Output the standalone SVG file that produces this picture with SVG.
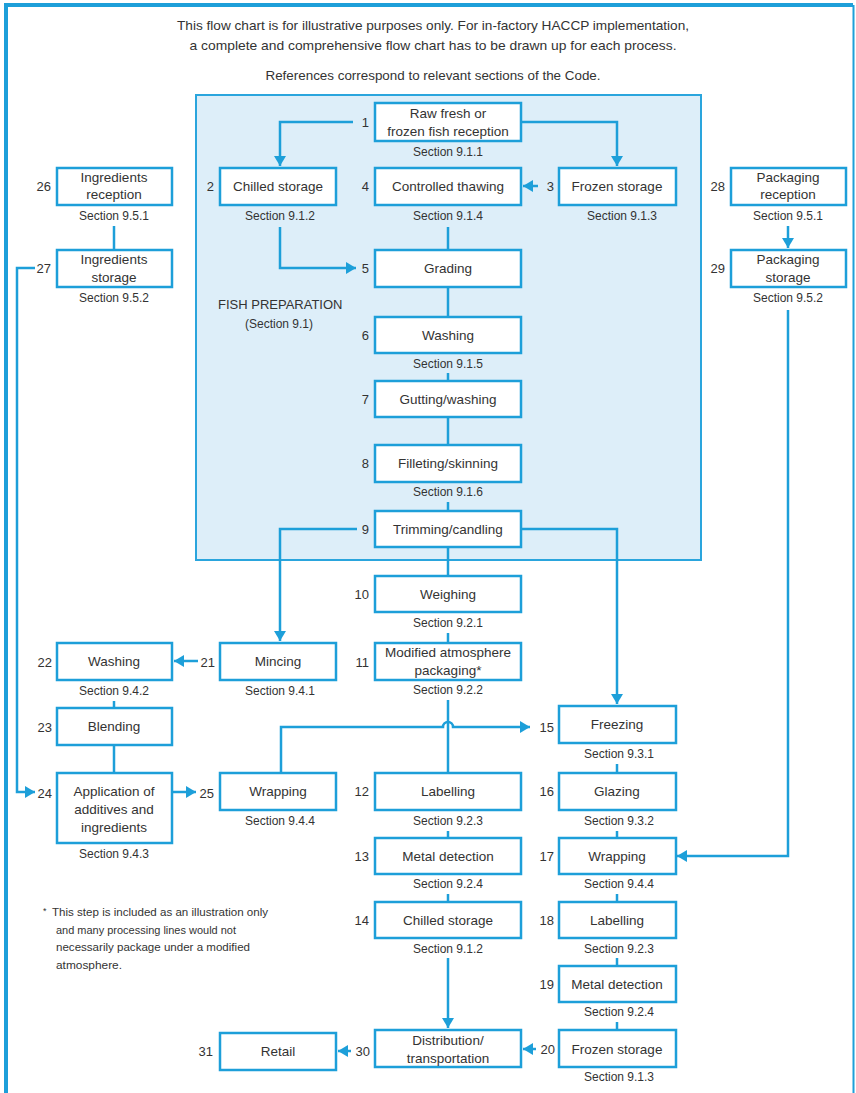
<svg xmlns="http://www.w3.org/2000/svg" width="856" height="1093" viewBox="0 0 856 1093">
<defs>
<style>
text{font-family:"Liberation Sans",Arial,sans-serif;fill:#333}
.lb{font-size:13.5px;text-anchor:middle;dominant-baseline:central}
.sec{font-size:12px;text-anchor:middle;dominant-baseline:central}
.num{font-size:13px;text-anchor:end;dominant-baseline:central}
.box{fill:#fff;stroke:#1d9fd9;stroke-width:2.5}
.hdr{font-size:13px;text-anchor:middle}
.fn{font-size:10.5px}
.c path{fill:none;stroke:#1d9fd9;stroke-width:2.5}
</style>
<marker id="ah" markerUnits="userSpaceOnUse" markerWidth="10" markerHeight="12" refX="10" refY="6" orient="auto" viewBox="0 0 10 12">
<path d="M0,0 L10,6 L0,12 z" fill="#1d9fd9"/>
</marker>
</defs>
<rect x="0" y="0" width="856" height="1093" fill="#fff"/>
<g id="frame">
<path d="M6,1093 V5 H853" fill="none" stroke="#1d9fd9" stroke-width="4"/>
<path d="M853.5,5 V1093" fill="none" stroke="#1d9fd9" stroke-width="2"/>
</g>
<g id="header">
<text class="hdr" x="433" y="30" textLength="512" lengthAdjust="spacingAndGlyphs">This flow chart is for illustrative purposes only. For in-factory HACCP implementation,</text>
<text class="hdr" x="433" y="50" textLength="487" lengthAdjust="spacingAndGlyphs">a complete and comprehensive flow chart has to be drawn up for each process.</text>
<text class="hdr" x="433" y="80" textLength="335" lengthAdjust="spacingAndGlyphs">References correspond to relevant sections of the Code.</text>
</g>
<g id="fish-prep">
<rect x="196" y="95" width="505" height="465" fill="#ddeef9" stroke="#2aa5dd" stroke-width="2"/>
<text x="218" y="309" style="font-size:13px">FISH PREPARATION</text>
<text x="279" y="328" style="font-size:12px;text-anchor:middle">(Section 9.1)</text>
</g>
<g class="c" id="connectors">
<path d="M353,122 H280 V166" marker-end="url(#ah)"/>
<path d="M521,122 H617 V166" marker-end="url(#ah)"/>
<path d="M538,186 H523" marker-end="url(#ah)"/>
<path d="M280,227 V268 H356" marker-end="url(#ah)"/>
<path d="M448,227 V250"/>
<path d="M448,287 V317"/>
<path d="M448,373 V381"/>
<path d="M448,417 V445"/>
<path d="M448,502 V511"/>
<path d="M448,547 V576"/>
<path d="M448,633 V643"/>
<path d="M357,529 H280 V641" marker-end="url(#ah)"/>
<path d="M521,529 H617 V704" marker-end="url(#ah)"/>
<path d="M448,700 V773"/>
<path d="M281,773 V727 H443 A5,5 0 0 1 453,727 H530" marker-end="url(#ah)"/>
<path d="M448,831 V838"/>
<path d="M448,894 V902"/>
<path d="M448,958 V1028" marker-end="url(#ah)"/>
<path d="M617,764 V773"/>
<path d="M617,831 V838"/>
<path d="M617,894 V902"/>
<path d="M617,958 V966"/>
<path d="M617,1022 V1030"/>
<path d="M536,1049 H523" marker-end="url(#ah)"/>
<path d="M351,1051 H338" marker-end="url(#ah)"/>
<path d="M198,661 H174" marker-end="url(#ah)"/>
<path d="M114,701 V708"/>
<path d="M114,745 V773"/>
<path d="M172,792 H196" marker-end="url(#ah)"/>
<path d="M114,226 V250"/>
<path d="M35,268 H17 V792 H35" marker-end="url(#ah)"/>
<path d="M788,226 V248" marker-end="url(#ah)"/>
<path d="M788,310 V856 H677" marker-end="url(#ah)"/>
</g>
<g id="n1"><rect class="box" x="375" y="103" width="146" height="38"/><text class="num" x="369" y="122">1</text><text class="lb" x="448" y="113">Raw fresh or</text><text class="lb" x="448" y="131">frozen fish reception</text><text class="sec" x="448" y="152">Section 9.1.1</text></g>
<g id="n2"><rect class="box" x="220" y="168" width="116" height="37"/><text class="num" x="214" y="186">2</text><text class="lb" x="278" y="186">Chilled storage</text><text class="sec" x="280" y="216">Section 9.1.2</text></g>
<g id="n3"><rect class="box" x="559" y="168" width="117" height="37"/><text class="num" x="554" y="186">3</text><text class="lb" x="617" y="186">Frozen storage</text><text class="sec" x="622" y="216">Section 9.1.3</text></g>
<g id="n4"><rect class="box" x="375" y="168" width="146" height="37"/><text class="num" x="369" y="186">4</text><text class="lb" x="448" y="186">Controlled thawing</text><text class="sec" x="448" y="216">Section 9.1.4</text></g>
<g id="n5"><rect class="box" x="375" y="250" width="146" height="37"/><text class="num" x="369" y="268">5</text><text class="lb" x="448" y="268">Grading</text></g>
<g id="n6"><rect class="box" x="375" y="317" width="146" height="36"/><text class="num" x="369" y="335">6</text><text class="lb" x="448" y="335">Washing</text><text class="sec" x="448" y="364">Section 9.1.5</text></g>
<g id="n7"><rect class="box" x="375" y="381" width="146" height="36"/><text class="num" x="369" y="399">7</text><text class="lb" x="448" y="399">Gutting/washing</text></g>
<g id="n8"><rect class="box" x="375" y="445" width="146" height="37"/><text class="num" x="369" y="463">8</text><text class="lb" x="448" y="463">Filleting/skinning</text><text class="sec" x="448" y="492">Section 9.1.6</text></g>
<g id="n9"><rect class="box" x="375" y="511" width="146" height="36"/><text class="num" x="369" y="529">9</text><text class="lb" x="448" y="529">Trimming/candling</text></g>
<g id="n10"><rect class="box" x="375" y="576" width="146" height="36"/><text class="num" x="369" y="594">10</text><text class="lb" x="448" y="594">Weighing</text><text class="sec" x="448" y="623">Section 9.2.1</text></g>
<g id="n11"><rect class="box" x="375" y="643" width="146" height="37"/><text class="num" x="369" y="662">11</text><text class="lb" x="448" y="652">Modified atmosphere</text><text class="lb" x="448" y="670">packaging*</text><text class="sec" x="448" y="690">Section 9.2.2</text></g>
<g id="n12"><rect class="box" x="375" y="773" width="146" height="37"/><text class="num" x="369" y="791">12</text><text class="lb" x="448" y="791">Labelling</text><text class="sec" x="448" y="821">Section 9.2.3</text></g>
<g id="n13"><rect class="box" x="375" y="838" width="146" height="36"/><text class="num" x="369" y="856">13</text><text class="lb" x="448" y="856">Metal detection</text><text class="sec" x="448" y="884">Section 9.2.4</text></g>
<g id="n14"><rect class="box" x="375" y="902" width="146" height="36"/><text class="num" x="369" y="920">14</text><text class="lb" x="448" y="920">Chilled storage</text><text class="sec" x="448" y="949">Section 9.1.2</text></g>
<g id="n15"><rect class="box" x="559" y="706" width="117" height="37"/><text class="num" x="554" y="727">15</text><text class="lb" x="617" y="724">Freezing</text><text class="sec" x="619" y="754">Section 9.3.1</text></g>
<g id="n16"><rect class="box" x="559" y="773" width="117" height="37"/><text class="num" x="554" y="791">16</text><text class="lb" x="617" y="791">Glazing</text><text class="sec" x="619" y="821">Section 9.3.2</text></g>
<g id="n17"><rect class="box" x="559" y="838" width="117" height="36"/><text class="num" x="554" y="856">17</text><text class="lb" x="617" y="856">Wrapping</text><text class="sec" x="619" y="884">Section 9.4.4</text></g>
<g id="n18"><rect class="box" x="559" y="902" width="117" height="36"/><text class="num" x="554" y="920">18</text><text class="lb" x="617" y="920">Labelling</text><text class="sec" x="619" y="949">Section 9.2.3</text></g>
<g id="n19"><rect class="box" x="559" y="966" width="117" height="36"/><text class="num" x="554" y="984">19</text><text class="lb" x="617" y="984">Metal detection</text><text class="sec" x="619" y="1012">Section 9.2.4</text></g>
<g id="n20"><rect class="box" x="559" y="1030" width="117" height="37"/><text class="num" x="555" y="1049">20</text><text class="lb" x="617" y="1049">Frozen storage</text><text class="sec" x="619" y="1077">Section 9.1.3</text></g>
<g id="n21"><rect class="box" x="220" y="643" width="116" height="37"/><text class="num" x="215" y="662">21</text><text class="lb" x="278" y="661">Mincing</text><text class="sec" x="280" y="691">Section 9.4.1</text></g>
<g id="n22"><rect class="box" x="57" y="643" width="115" height="37"/><text class="num" x="52" y="662">22</text><text class="lb" x="114" y="661">Washing</text><text class="sec" x="114" y="691">Section 9.4.2</text></g>
<g id="n23"><rect class="box" x="57" y="708" width="115" height="37"/><text class="num" x="52" y="727">23</text><text class="lb" x="114" y="726">Blending</text></g>
<g id="n24"><rect class="box" x="57" y="773" width="115" height="70"/><text class="num" x="52" y="793">24</text><text class="lb" x="114" y="791">Application of</text><text class="lb" x="114" y="809">additives and</text><text class="lb" x="114" y="827">ingredients</text><text class="sec" x="114" y="854">Section 9.4.3</text></g>
<g id="n25"><rect class="box" x="220" y="773" width="116" height="37"/><text class="num" x="214" y="793">25</text><text class="lb" x="278" y="791">Wrapping</text><text class="sec" x="280" y="821">Section 9.4.4</text></g>
<g id="n26"><rect class="box" x="57" y="168" width="115" height="37"/><text class="num" x="51" y="186">26</text><text class="lb" x="114" y="177">Ingredients</text><text class="lb" x="114" y="194">reception</text><text class="sec" x="114" y="216">Section 9.5.1</text></g>
<g id="n27"><rect class="box" x="57" y="250" width="115" height="37"/><text class="num" x="51" y="268">27</text><text class="lb" x="114" y="259">Ingredients</text><text class="lb" x="114" y="277">storage</text><text class="sec" x="114" y="298">Section 9.5.2</text></g>
<g id="n28"><rect class="box" x="731" y="168" width="115" height="37"/><text class="num" x="725" y="186">28</text><text class="lb" x="788" y="177">Packaging</text><text class="lb" x="788" y="194">reception</text><text class="sec" x="788" y="216">Section 9.5.1</text></g>
<g id="n29"><rect class="box" x="731" y="250" width="115" height="37"/><text class="num" x="725" y="268">29</text><text class="lb" x="788" y="259">Packaging</text><text class="lb" x="788" y="277">storage</text><text class="sec" x="788" y="298">Section 9.5.2</text></g>
<g id="n30"><rect class="box" x="375" y="1030" width="146" height="37"/><text class="num" x="370" y="1051">30</text><text class="lb" x="448" y="1040">Distribution/</text><text class="lb" x="448" y="1058">transportation</text></g>
<g id="n31"><rect class="box" x="220" y="1033" width="116" height="37"/><text class="num" x="213" y="1051">31</text><text class="lb" x="278" y="1051">Retail</text></g>
<g id="footnote">
<text class="fn" x="43" y="914" style="font-size:9px">*</text>
<text class="fn" x="52" y="916" textLength="216" lengthAdjust="spacingAndGlyphs">This step is included as an illustration only</text>
<text class="fn" x="56" y="934" textLength="180" lengthAdjust="spacingAndGlyphs">and many processing lines would not</text>
<text class="fn" x="56" y="951" textLength="194" lengthAdjust="spacingAndGlyphs">necessarily package under a modified</text>
<text class="fn" x="56" y="969" textLength="66" lengthAdjust="spacingAndGlyphs">atmosphere.</text>
</g>
</svg>
